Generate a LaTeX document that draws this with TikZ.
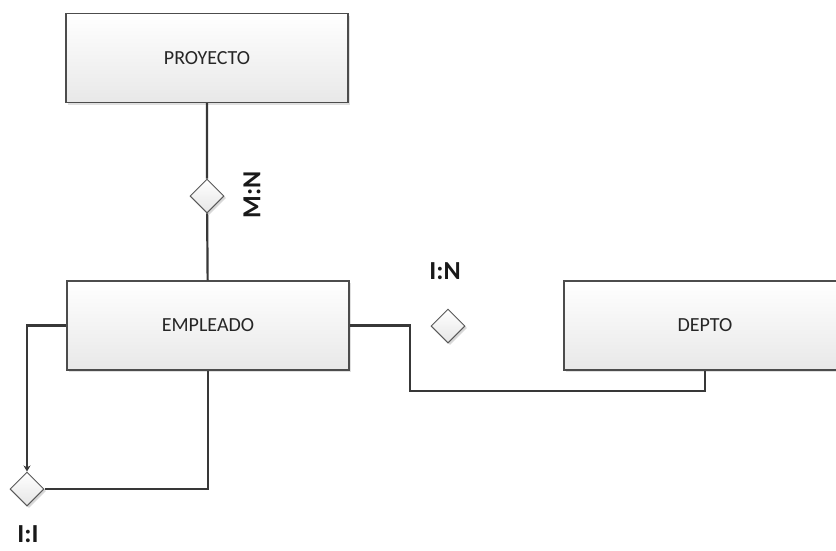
\documentclass[tikz,border=0pt]{standalone}
\usepackage{fontspec}
\setmainfont{Carlito}
\usepackage{tikz}
\usetikzlibrary{arrows.meta,shapes.geometric,shadows}
\definecolor{LineGray}{gray}{0.22}
\definecolor{BoxTop}{gray}{1.0}
\definecolor{BoxBot}{gray}{0.91}
\newcommand{\bxw}{282}
\newcommand{\bxh}{89}
\newcommand{\dmd}{34}
\tikzset{
    entbox/.style={
        draw=black!70, line width=1.2pt, rectangle, inner sep=0pt,
        minimum width=\bxw pt, minimum height=\bxh pt,
        top color=BoxTop, bottom color=BoxBot,
        drop shadow={shadow xshift=2pt, shadow yshift=-2pt, fill=black!20, opacity=0.6},
        font=\fontsize{20}{24}\selectfont, text=black!85
    },
    reldiam/.style={
        draw=black!65, line width=1pt, diamond, aspect=1, inner sep=0pt,
        minimum size=\dmd pt,
        top color=white, bottom color=black!10,
        drop shadow={shadow xshift=2pt, shadow yshift=-2pt, fill=black!25, opacity=0.6}
    },
    rellbl/.style={inner sep=0pt, font=\fontsize{26}{30}\selectfont\bfseries, text=black!90},
    conn/.style={draw=LineGray, line width=2.2pt}
}

\begin{document}
\begin{tikzpicture}[x=1pt,y=-1pt]
    \useasboundingbox (0,0) rectangle (836,550);    % Freeze the bounding box
    \fill[white] (0,0) rectangle (836,550);
    %
    % --- --- --- Entities
    \node[entbox] (PROY) at (207,58) {PROYECTO};
    \node[entbox] (EMPL) at (208,325.5) {EMPLEADO};
    \node[entbox] (DEPTO) at (705,325.5) {DEPTO};
    % --- --- --- Relations
    \node[reldiam] (R_MN) at (207,196) {};
    \node[reldiam] (R_1N) at (448,326) {};
    \node[reldiam] (R_11) at (27,489) {};
    % --- --- --- Cardinalities
    \node[rellbl,rotate=90] (L_MN) at (252,195) {M:N};
    \node[rellbl] (L_1N) at (445,271) {I:N};
    \node[rellbl] (L_11) at (28,534) {I:I};
    %
    % === === === Connectors
    \coordinate (BEND) at (410,391);
    \draw[conn] (PROY) -- (R_MN) -- (EMPL);
    \draw[conn,-{Stealth[length=6pt,width=7pt]}] (EMPL.west) -| (R_11.north);
    \draw[conn] (EMPL.south) |- (R_11.east);
    \draw[conn] (EMPL.east) -| (BEND) -| (DEPTO.south);
\end{tikzpicture}
\end{document}
